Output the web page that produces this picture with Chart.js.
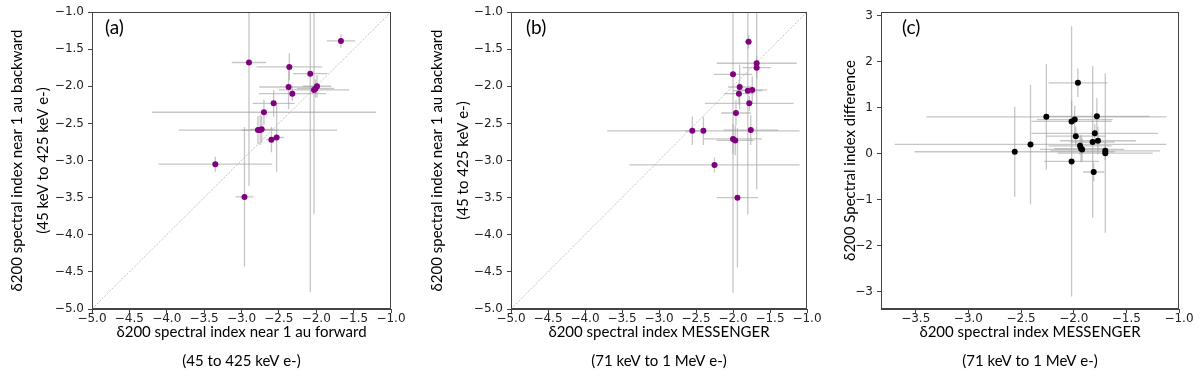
<!DOCTYPE html>
<html><head><meta charset="utf-8">
<script src="https://cdn.jsdelivr.net/npm/chart.js@4.4.1/dist/chart.umd.min.js"></script>
<style>
html,body{margin:0;padding:0;background:#fff;width:1200px;height:376px;overflow:hidden}
.p{position:absolute;top:0;height:376px}
canvas{display:block}
</style></head><body>
<div class="p" style="left:0;width:420px"><canvas id="ca" width="420" height="376"></canvas></div>
<div class="p" style="left:420px;width:410px"><canvas id="cb" width="410" height="376"></canvas></div>
<div class="p" style="left:830px;width:370px"><canvas id="cc" width="370" height="376"></canvas></div>
<script>
// ---- tick values ----
const ticksAB = [-5.0, -4.5, -4.0, -3.5, -3.0, -2.5, -2.0, -1.5, -1.0];
const ticksCX = [-3.5, -3.0, -2.5, -2.0, -1.5, -1.0];
const ticksCY = [-3, -2, -1, 0, 1, 2, 3];
const diagX = [-5, -1];

// ---- panel (a): forward vs backward ----
const aX    = [-1.67, -2.90, -2.36, -2.08, -1.99, -2.03, -2.01, -2.37, -2.32, -2.57, -2.70, -2.78, -2.75, -2.73, -2.60, -2.53, -3.35, -2.96];
const aY    = [-1.39, -1.68, -1.74, -1.83, -2.00, -2.05, -2.03, -2.01, -2.10, -2.23, -2.35, -2.59, -2.59, -2.58, -2.72, -2.69, -3.05, -3.49];
const aXErr = [0.19, 0.23, 0.44, 0.23, 0.19, 0.47, 0.25, 0.39, 0.45, 0.28, 1.50, 1.06, 0.25, 0.15, 0.07, 0.10, 0.76, 0.12];
const aYErr = [0.09, 1.66, 0.18, 2.94, 0.15, 1.67, 0.12, 0.30, 0.10, 0.18, 0.17, 0.19, 0.20, 0.18, 0.17, 0.46, 0.10, 0.94];

// ---- panel (b): MESSENGER vs backward ----
const bX    = [-1.79, -1.68, -1.68, -2.00, -1.91, -1.92, -1.80, -1.74, -1.78, -1.96, -2.55, -2.40, -1.76, -2.00, -1.97, -2.25, -1.94];
const bY    = [-1.40, -1.69, -1.75, -1.84, -2.01, -2.10, -2.06, -2.05, -2.23, -2.36, -2.60, -2.60, -2.59, -2.71, -2.73, -3.06, -3.50];
const bXErr = [0.05, 0.54, 0.19, 0.26, 0.16, 0.20, 0.20, 0.20, 0.60, 0.20, 0.10, 1.30, 0.37, 0.39, 0.25, 1.15, 0.28];
const bYErr = [0.09, 1.70, 0.15, 2.94, 0.30, 0.15, 1.67, 0.18, 0.10, 0.17, 0.19, 0.19, 0.20, 0.20, 0.20, 0.10, 0.94];

// ---- panel (c): MESSENGER vs difference ----
const cX    = [-1.96, -2.26, -2.02, -1.99, -1.78, -1.80, -1.98, -1.82, -1.77, -2.41, -1.94, -1.93, -1.92, -1.70, -1.70, -2.56, -2.02, -1.81];
const cY    = [1.54, 0.80, 0.70, 0.74, 0.81, 0.44, 0.38, 0.25, 0.28, 0.20, 0.17, 0.11, 0.09, 0.06, 0.01, 0.04, -0.17, -0.40];
const cXErr = [0.28, 1.14, 0.38, 0.36, 0.50, 0.60, 0.28, 0.21, 0.36, 1.29, 0.30, 0.25, 0.40, 0.52, 0.45, 0.95, 0.26, 0.10];
const cYErr = [0.31, 1.15, 0.45, 0.30, 0.40, 0.20, 0.20, 1.65, 0.30, 1.30, 0.20, 0.30, 0.25, 0.20, 1.73, 0.98, 2.94, 0.20];

const TICKFONT = {family: 'DejaVu Sans', size: 12};
const TITLEFAMILY = 'Lato';
const AXCOL = '#444';

const minus = s => String(s).replace('-', '\u2212');

const panelPlugin = {
  id: 'panel',
  beforeDatasetsDraw(chart) {
    const ctx = chart.ctx, ca = chart.chartArea;
    const xs = chart.scales.x, ys = chart.scales.y;
    ctx.save();
    ctx.beginPath();
    ctx.rect(ca.left, ca.top, ca.right - ca.left, ca.bottom - ca.top);
    ctx.clip();
    ctx.strokeStyle = 'rgba(160,160,160,0.6)';
    ctx.lineWidth = 1.3;
    chart.data.datasets.forEach(ds => {
      if (!ds.errX) return;
      ds.data.forEach((p, i) => {
        const px = xs.getPixelForValue(p.x), py = ys.getPixelForValue(p.y);
        ctx.beginPath();
        ctx.moveTo(xs.getPixelForValue(p.x - ds.errX[i]), py);
        ctx.lineTo(xs.getPixelForValue(p.x + ds.errX[i]), py);
        ctx.moveTo(px, ys.getPixelForValue(p.y - ds.errY[i]));
        ctx.lineTo(px, ys.getPixelForValue(p.y + ds.errY[i]));
        ctx.stroke();
      });
    });
    ctx.restore();
  },
  afterDraw(chart, args, opts) {
    const ctx = chart.ctx, ca = chart.chartArea;
    ctx.save();
    ctx.strokeStyle = AXCOL;
    ctx.lineWidth = 1;
    ctx.strokeRect(Math.round(ca.left) + 0.5, Math.round(ca.top) + 0.5,
                   Math.round(ca.right - ca.left) - 1, Math.round(ca.bottom - ca.top) - 1);
    ctx.fillStyle = '#000';
    ctx.font = '19px ' + TITLEFAMILY;
    ctx.textBaseline = 'middle';
    ctx.textAlign = 'left';
    ctx.fillText(opts.label, ca.left + opts.lx, ca.top + 16);
    ctx.restore();
  }
};

function scaleCfg(opt) {
  return {
    type: 'linear',
    position: opt.position,
    min: opt.min, max: opt.max,
    afterBuildTicks: s => { s.ticks = opt.ticks.map(v => ({value: v})); },
    afterFit: s => { if (opt.position === 'bottom') s.height = opt.size; else s.width = opt.size; },
    ticks: {
      callback: opt.fmt,
      font: TICKFONT, color: '#222',
      padding: opt.position === 'bottom' ? -1 : 4,
      maxRotation: 0, autoSkip: false
    },
    grid: {display: true, drawOnChartArea: false, drawTicks: true, tickLength: 4, color: AXCOL, tickColor: AXCOL},
    border: {display: true, color: AXCOL, width: 1},
    title: {
      display: true, text: opt.title, color: '#000',
      font: {family: TITLEFAMILY, size: 15, lineHeight: opt.lh},
      padding: opt.tpad
    }
  };
}

function makeChart(id, o) {
  const datasets = [{
    type: 'scatter',
    data: o.xs.map((x, i) => ({x: x, y: o.ys[i]})),
    errX: o.ex, errY: o.ey,
    pointRadius: 3, pointHoverRadius: 3,
    backgroundColor: o.color, borderWidth: 0
  }];
  if (o.diag) {
    datasets.push({
      type: 'line',
      data: diagX.map(v => ({x: v, y: v})),
      borderColor: '#b5b5b5', borderWidth: 0.8, borderDash: [2, 1.5],
      pointRadius: 0, fill: false
    });
  }
  new Chart(document.getElementById(id), {
    data: {datasets},
    plugins: [panelPlugin],
    options: {
      responsive: false, animation: false, events: [],
      layout: {padding: {left: 0, top: 12, right: o.padR, bottom: 0}},
      plugins: {legend: {display: false}, tooltip: {enabled: false}, panel: {label: o.label, lx: o.lx}},
      scales: {
        x: scaleCfg({position: 'bottom', min: o.xmin, max: o.xmax, ticks: o.xt,
                     fmt: v => minus(v.toFixed(1)), size: 67, title: o.xtitle, lh: '29px', tpad: {top: 0, bottom: 0}}),
        y: scaleCfg({position: 'left', min: o.ymin, max: o.ymax, ticks: o.yt,
                     fmt: o.yfmt, size: o.yw, title: o.ytitle, lh: '26px', tpad: {top: o.ytp, bottom: 0}})
      }
    }
  });
}

const fmt1 = v => minus(v.toFixed(1));
const fmt0 = v => minus(v.toFixed(0));

makeChart('ca', {
  xs: aX, ys: aY, ex: aXErr, ey: aYErr, color: '#800080', diag: true, label: '(a)', lx: 13,
  xmin: -5, xmax: -1, ymin: -5, ymax: -1, xt: ticksAB, yt: ticksAB, yfmt: fmt1,
  yw: 92, padR: 29, ytp: 4,
  xtitle: ['\u03b4200 spectral index near 1 au forward', '(45 to 425 keV e-)'],
  ytitle: ['\u03b4200 spectral index near 1 au backward', '(45 keV to 425 keV e-)']
});
makeChart('cb', {
  xs: bX, ys: bY, ex: bXErr, ey: bYErr, color: '#800080', diag: true, label: '(b)', lx: 15,
  xmin: -5, xmax: -1, ymin: -5, ymax: -1, xt: ticksAB, yt: ticksAB, yfmt: fmt1,
  yw: 91, padR: 23, ytp: 4,
  xtitle: ['\u03b4200 spectral index MESSENGER', '(71 keV to 1 MeV e-)'],
  ytitle: ['\u03b4200 spectral index near 1 au backward', '(45 to 425 keV e-)']
});
makeChart('cc', {
  xs: cX, ys: cY, ex: cXErr, ey: cYErr, color: '#000000', diag: false, label: '(c)', lx: 21,
  xmin: -3.83, xmax: -1.0, ymin: -3.38, ymax: 3.08, xt: ticksCX, yt: ticksCY, yfmt: fmt0,
  yw: 51, padR: 21, ytp: 7,
  xtitle: ['\u03b4200 spectral index MESSENGER', '(71 keV to 1 MeV e-)'],
  ytitle: '\u03b4200 Spectral index difference'
});
</script>
</body></html>
